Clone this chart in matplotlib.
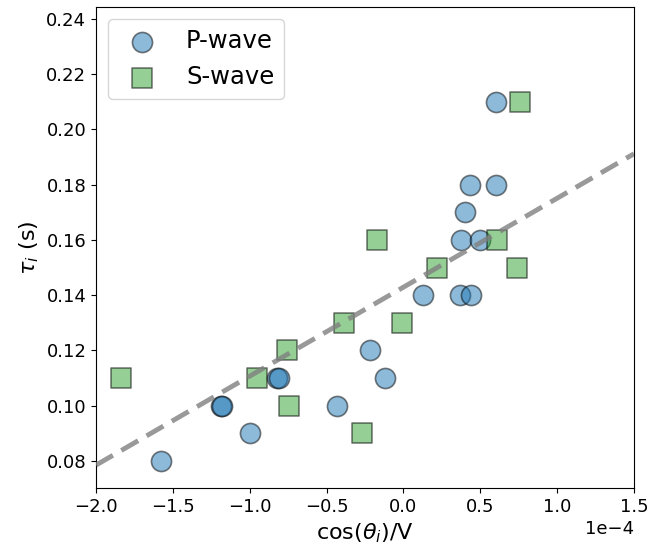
import numpy as np
import matplotlib
matplotlib.use("Agg")
import matplotlib.pyplot as plt

# P-wave picks: cos(theta)/V (1e-4 s/m) and delay tau (s)
p_x = [-1.58, -1.00, -1.19, -1.18, -0.82, -0.81, -0.43, -0.22, -0.12,
       0.13, 0.37, 0.44, 0.375, 0.40, 0.43, 0.60, 0.50, 0.60]
p_tau = [0.08, 0.09, 0.10, 0.10, 0.11, 0.11, 0.10, 0.12, 0.11,
         0.14, 0.14, 0.14, 0.16, 0.17, 0.18, 0.18, 0.16, 0.21]

# S-wave picks
s_x = [-1.84, -0.955, -0.755, -0.745, -0.39, -0.27, -0.01, -0.17,
       0.22, 0.61, 0.74, 0.76]
s_tau = [0.11, 0.11, 0.12, 0.10, 0.13, 0.09, 0.13, 0.16,
         0.15, 0.16, 0.15, 0.21]

# fitted trend
fit_slope = 322.0      # s per (s/m)
fit_intercept = 0.1429  # s

p_x = np.array(p_x) * 1e-4
s_x = np.array(s_x) * 1e-4

fig = plt.figure(figsize=(6.58, 5.45), dpi=100)
ax = fig.add_axes([0.146, 0.1046, 0.8175, 0.8824])

ax.scatter(p_x, p_tau, s=210, marker="o", color="tab:blue", alpha=0.5,
           edgecolor="k", linewidth=1.2, label="P-wave", zorder=2)
ax.scatter(s_x, s_tau, s=210, marker="s", color="tab:green", alpha=0.5,
           edgecolor="k", linewidth=1.2, label="S-wave", zorder=2)

xx = np.array([-2.0e-4, 1.5e-4])
ax.plot(xx, fit_intercept + fit_slope * xx, "--", color="gray", lw=3.5,
        alpha=0.8, dashes=(4, 2), zorder=3)

ax.set_xlim(-2.0e-4, 1.5e-4)
ax.set_ylim(0.0702, 0.2443)
ax.set_xticks(np.arange(-2.0, 1.51, 0.5) * 1e-4)
ax.set_yticks(np.arange(0.08, 0.241, 0.02))
ax.ticklabel_format(style="sci", axis="x", scilimits=(0, 0))
ax.tick_params(labelsize=13)
ax.xaxis.get_offset_text().set_fontsize(13)

ax.set_xlabel(r"cos($\theta_i$)/V", fontsize=16)
ax.set_ylabel(r"$\tau_i$ (s)", fontsize=16)
ax.legend(loc="upper left", fontsize=17.5)

fig.savefig("out.png", dpi=100)
